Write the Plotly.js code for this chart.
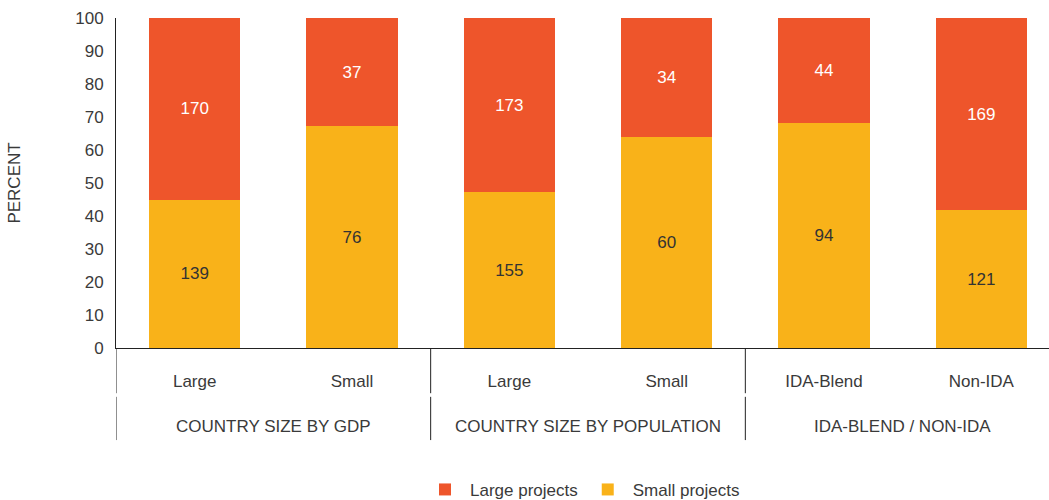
<!DOCTYPE html>
<html>
<head>
<meta charset="utf-8">
<script src="https://cdn.plot.ly/plotly-3.0.1.min.js"></script>
<style>html,body{margin:0;padding:0;background:#fff;}#chart{width:1049px;height:500px;}</style>
</head>
<body>
<div id="chart"></div>
<script>
const subcategories = ["Large", "Small", "Large", "Small", "IDA-Blend", "Non-IDA"];
const groups = ["COUNTRY SIZE BY GDP", "COUNTRY SIZE BY POPULATION", "IDA-BLEND / NON-IDA"];
const largeProjects = [170, 37, 173, 34, 44, 169];
const smallProjects = [139, 76, 155, 60, 94, 121];
const yTicks = [0, 10, 20, 30, 40, 50, 60, 70, 80, 90, 100];

const xIdx = subcategories.map((_, i) => i);
const FONT = "Liberation Sans, Arial, sans-serif";
const TXT = "#3a3a3a";
const FS = 17;

const traces = [
  {
    type: "bar", name: "Small projects", x: xIdx, y: smallProjects,
    text: smallProjects.map(String), textposition: "inside", insidetextanchor: "middle",
    textfont: {family: FONT, size: FS, color: "#333333"},
    marker: {color: "#F9B219"}, hoverinfo: "skip"
  },
  {
    type: "bar", name: "Large projects", x: xIdx, y: largeProjects,
    text: largeProjects.map(String), textposition: "inside", insidetextanchor: "middle",
    textfont: {family: FONT, size: FS, color: "#ffffff"},
    marker: {color: "#EE552B"}, hoverinfo: "skip"
  }
];

const annotations = groups.map((g, i) => ({
  text: g, x: 2 * i + 0.5, xref: "x", y: 0, yref: "y",
  yshift: -78, showarrow: false, xanchor: "center", yanchor: "middle",
  font: {family: FONT, size: FS, color: TXT}
}));

const shapes = [];
[-0.5, 1.5, 3.5].forEach(b => {
  shapes.push({type: "line", xref: "x", yref: "paper", x0: b, x1: b, y0: 0, y1: -0.137, line: {color: "#222", width: 1}});
  shapes.push({type: "line", xref: "x", yref: "paper", x0: b, x1: b, y0: -0.148, y1: -0.279, line: {color: "#222", width: 1}});
});

const layout = {
  width: 1049, height: 500,
  margin: {l: 116, r: 0, t: 18, b: 152, autoexpand: false},
  paper_bgcolor: "#ffffff", plot_bgcolor: "#ffffff",
  barmode: "stack", barnorm: "percent", bargap: 0.42,
  font: {family: FONT, size: FS, color: TXT},
  xaxis: {
    range: [-0.5, 5.43], tickvals: xIdx, ticktext: subcategories, automargin: false,
    showgrid: false, zeroline: false, showline: true, linecolor: "#222", linewidth: 1,
    ticks: "", ticklabelstandoff: 18, tickfont: {family: FONT, size: FS, color: TXT}, fixedrange: true
  },
  yaxis: {
    range: [0, 100], tickvals: yTicks, showgrid: false, zeroline: false, automargin: false,
    showline: true, linecolor: "#222", linewidth: 1, ticks: "", ticklabelstandoff: 8,
    tickfont: {family: FONT, size: FS, color: TXT},
    title: {text: "PERCENT", font: {family: FONT, size: FS, color: TXT}, standoff: 50},
    fixedrange: true
  },
  legend: {
    orientation: "h", x: 0.5, xanchor: "center", y: -0.43, yanchor: "middle",
    traceorder: "reversed", font: {family: FONT, size: FS, color: TXT}, itemwidth: 40
  },
  annotations: annotations, shapes: shapes, showlegend: true
};

Plotly.newPlot("chart", traces, layout, {displayModeBar: false, staticPlot: true});
</script>
</body>
</html>
